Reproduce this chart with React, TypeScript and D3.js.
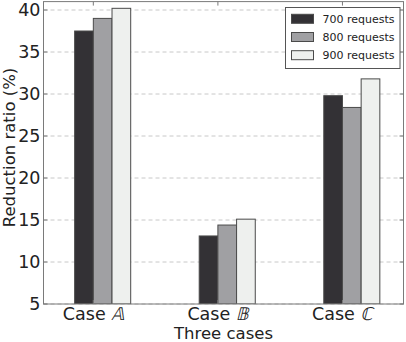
import React from "react";
import * as d3 from "d3";

// chart values
const categories = ["A", "B", "C"];
const caseLetters = ["\u{1D538}", "\u{1D539}", "\u2102"];
const seriesNames = ["700 requests", "800 requests", "900 requests"];
const values700 = [37.5, 13.1, 29.8];
const values800 = [39.0, 14.4, 28.4];
const values900 = [40.2, 15.1, 31.8];
const yTicks = [5, 10, 15, 20, 25, 30, 35, 40];

const series = [values700, values800, values900];
const fills = ["#333135", "#a0a0a3", "#eef0ee"];

const W = 406;
const H = 342;
const left = 43.5, right = 403.5, top = 1.6, bottom = 304;
const barW = 0.15;
const font = "'DejaVu Sans', sans-serif";
const tickFs = 17.5;

export default function App() {
  // matplotlib-style edge-aligned bars: group i starts at i, tick sits at i + barW
  const x = d3.scaleLinear().domain([-0.25, 2.64]).range([left, right]);
  const y = d3.scaleLinear().domain([5, 41]).range([bottom, top]);
  const tickX = categories.map((_, i) => x(i + barW));

  // "Case " is ~2.765em wide in DejaVu Sans, the letter ~0.72em
  const caseW = 2.765 * tickFs;
  const labelW = caseW + 0.72 * tickFs;

  return (
    <svg width={W} height={H} style={{ position: "absolute", left: 0, top: 0, background: "#fff" }}
      fontFamily={font}>
      {/* grid */}
      {yTicks.map((t) => (
        <line key={"g" + t} x1={left} x2={right} y1={y(t)} y2={y(t)}
          stroke="#c8c8c8" strokeWidth={1} strokeDasharray="4,3" />
      ))}

      {/* bars */}
      <g clipPath="url(#plot)">
        {series.map((vals, s) =>
          vals.map((v, i) => (
            <rect key={s + "-" + i}
              x={x(i + s * barW)} width={x(barW) - x(0)}
              y={y(v)} height={y(5) - y(v)}
              fill={fills[s]} stroke="#4a4a4a" strokeWidth={1} />
          ))
        )}
      </g>
      <defs>
        <clipPath id="plot">
          <rect x={left} y={top} width={right - left} height={bottom - top} />
        </clipPath>
      </defs>

      {/* frame */}
      <rect x={left} y={top} width={right - left} height={bottom - top}
        fill="none" stroke="#7a7a7a" strokeWidth={1} />

      {/* ticks, pointing in on all sides */}
      {yTicks.map((t) => (
        <g key={"yt" + t}>
          <line x1={left} x2={left + 4} y1={y(t)} y2={y(t)} stroke="#7a7a7a" />
          <line x1={right - 4} x2={right} y1={y(t)} y2={y(t)} stroke="#7a7a7a" />
          <text x={left - 3} y={y(t)} dy="0.36em" textAnchor="end" fontSize={tickFs} fill="#222">
            {t}
          </text>
        </g>
      ))}
      {tickX.map((tx, i) => {
        const x0 = tx - labelW / 2;
        const lx = x0 + caseW;
        const by = 319.5;
        return (
          <g key={"xt" + i}>
            <line x1={tx} x2={tx} y1={top} y2={top + 4} stroke="#7a7a7a" />
            <line x1={tx} x2={tx} y1={bottom - 4} y2={bottom} stroke="#7a7a7a" />
            <text x={x0} y={by} fontSize={tickFs} fill="#222">Case</text>
            <text transform={`translate(${lx},${by}) skewX(-14)`} fontSize={tickFs} fill="#222">
              {caseLetters[i]}
            </text>
          </g>
        );
      })}

      {/* axis labels */}
      <text x={223.5} y={339} textAnchor="middle" fontSize={16.5} fill="#222">Three cases</text>
      <text transform={`translate(15,147.5) rotate(-90)`} textAnchor="middle" fontSize={16.5} fill="#222">
        Reduction ratio (%)
      </text>

      {/* legend */}
      <rect x={285.5} y={7.5} width={114.5} height={61} fill="#fff" stroke="#555" strokeWidth={1} />
      {seriesNames.map((name, s) => {
        const cy = 18.8 + s * 18.2;
        return (
          <g key={name}>
            <rect x={291.5} y={cy - 4.5} width={22} height={9} fill={fills[s]} stroke="#4a4a4a" />
            <text x={322.5} y={cy} dy="0.36em" fontSize={11} fill="#222">{name}</text>
          </g>
        );
      })}
    </svg>
  );
}
